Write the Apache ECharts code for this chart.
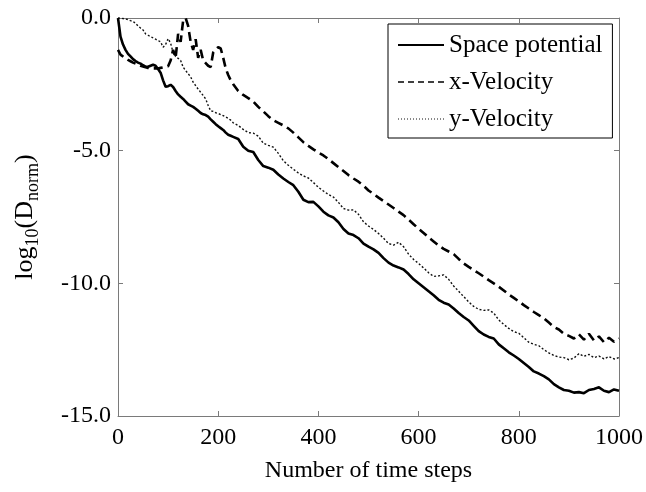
<!DOCTYPE html>
<html>
<head>
<meta charset="utf-8">
<script src="https://cdn.jsdelivr.net/npm/echarts@6/dist/echarts.min.js"></script>
<style>html,body{margin:0;padding:0;background:#fff}#c{width:646px;height:492px}</style>
</head>
<body>
<div id="c"></div>
<script>
// Time-step sampling grid
const timeSteps = [
  0,5,10,15,20,25,30,35,40,45,50,55,60,65,70,75,80,85,90,95,
  100,105,110,115,120,125,130,135,140,145,150,155,160,165,170,175,180,185,190,195,
  200,205,210,215,220,225,230,
  240,250,260,270,280,290,300,310,320,330,340,350,360,370,380,390,400,
  410,420,430,440,450,460,470,480,490,500,510,520,530,540,550,560,570,580,590,600,
  610,620,630,640,650,660,670,680,690,700,710,720,730,740,750,760,770,780,790,800,
  810,820,830,840,850,860,870,880,890,900,910,920,930,940,950,960,970,980,990,1000
];
// log10(D_norm) for each series
const spacePotential = [
  0.0,-0.7,-1.0,-1.2,-1.35,-1.45,-1.55,-1.62,-1.68,-1.72,-1.78,-1.83,-1.84,-1.8,-1.76,-1.8,-1.92,-2.06,-2.35,-2.59,
  -2.57,-2.52,-2.6,-2.75,-2.88,-2.97,-3.05,-3.15,-3.25,-3.3,-3.35,-3.42,-3.5,-3.58,-3.63,-3.66,-3.72,-3.82,-3.91,-4.0,
  -4.08,-4.15,-4.22,-4.32,-4.4,-4.44,-4.48,
  -4.56,-4.85,-5.0,-5.05,-5.35,-5.58,-5.64,-5.72,-5.9,-6.05,-6.18,-6.3,-6.55,-6.85,-6.94,-6.93,-7.1,
  -7.3,-7.44,-7.52,-7.7,-7.95,-8.12,-8.18,-8.3,-8.5,-8.62,-8.72,-8.85,-9.05,-9.22,-9.33,-9.4,-9.48,-9.65,-9.85,-10.0,
  -10.15,-10.3,-10.45,-10.62,-10.73,-10.8,-10.95,-11.12,-11.27,-11.4,-11.6,-11.8,-11.93,-12.02,-12.08,-12.3,-12.45,-12.6,-12.72,-12.85,
  -13.0,-13.15,-13.32,-13.4,-13.5,-13.62,-13.8,-13.92,-14.02,-14.05,-14.12,-14.1,-14.14,-14.02,-13.98,-13.92,-14.05,-14.1,-14.0,-14.05
];
const xVelocity = [
  -1.2,-1.38,-1.45,-1.52,-1.58,-1.63,-1.68,-1.72,-1.76,-1.8,-1.83,-1.86,-1.88,-1.9,-1.9,-1.9,-1.9,-1.88,-1.86,-1.84,
  -1.82,-1.6,-1.2,-1.5,-0.6,-0.9,-0.1,0.0,-0.3,-0.9,-1.2,-0.8,-1.5,-1.2,-1.6,-1.7,-1.8,-1.85,-1.3,-1.2,
  -1.1,-1.15,-1.5,-1.9,-2.15,-2.35,-2.5,
  -2.75,-2.9,-3.02,-3.15,-3.35,-3.52,-3.7,-3.85,-3.95,-4.05,-4.16,-4.32,-4.5,-4.68,-4.82,-4.95,-5.07,
  -5.18,-5.32,-5.47,-5.62,-5.77,-5.92,-6.05,-6.17,-6.32,-6.5,-6.63,-6.77,-6.9,-7.03,-7.16,-7.3,-7.43,-7.6,-7.77,-7.94,
  -8.1,-8.27,-8.42,-8.57,-8.7,-8.8,-8.9,-9.08,-9.25,-9.38,-9.5,-9.62,-9.75,-9.88,-10.0,-10.13,-10.27,-10.42,-10.55,-10.68,
  -10.82,-10.95,-11.08,-11.2,-11.32,-11.48,-11.64,-11.74,-11.9,-11.98,-12.08,-11.92,-12.12,-11.9,-12.15,-12.0,-12.22,-12.05,-12.2,-12.08
];
const yVelocity = [
  0.0,0.0,-0.02,-0.04,-0.06,-0.1,-0.13,-0.2,-0.3,-0.38,-0.45,-0.6,-0.65,-0.7,-0.75,-0.8,-0.85,-0.9,-1.1,-1.0,
  -0.78,-0.95,-1.3,-1.45,-1.52,-1.6,-1.85,-1.98,-2.1,-2.22,-2.42,-2.55,-2.68,-2.8,-2.92,-3.05,-3.3,-3.5,-3.52,-3.57,
  -3.6,-3.64,-3.68,-3.73,-3.78,-3.85,-3.95,
  -4.05,-4.2,-4.32,-4.34,-4.45,-4.72,-4.8,-4.87,-5.1,-5.38,-5.55,-5.7,-5.84,-5.95,-6.03,-6.2,-6.38,
  -6.52,-6.65,-6.75,-6.95,-7.18,-7.24,-7.23,-7.4,-7.68,-7.84,-7.97,-8.12,-8.3,-8.5,-8.56,-8.45,-8.62,-8.9,-9.1,-9.25,
  -9.42,-9.6,-9.74,-9.72,-9.68,-9.85,-10.1,-10.3,-10.5,-10.7,-10.87,-10.98,-11.02,-11.0,-11.12,-11.38,-11.55,-11.7,-11.82,-11.88,
  -12.05,-12.22,-12.3,-12.35,-12.5,-12.62,-12.72,-12.78,-12.8,-12.88,-12.82,-12.65,-12.75,-12.68,-12.8,-12.74,-12.85,-12.76,-12.85,-12.8
];
const seriesNames = ['Space potential', 'x-Velocity', 'y-Velocity'];
const xTicks = [0, 200, 400, 600, 800, 1000];
const yTicks = [0, -5, -10, -15];

const pair = ys => timeSteps.map((x, i) => [x, ys[i]]);
const FONT = 'Liberation Serif';
const AXC = '#7a7a7a';

const chart = echarts.init(document.getElementById('c'), null, {renderer: 'canvas'});
const baseX = {
  type: 'value', min: xTicks[0], max: xTicks[xTicks.length - 1], interval: 200,
  axisLine: {show: true, onZero: false, lineStyle: {color: AXC, width: 1}},
  axisTick: {show: true, inside: true, length: 5, lineStyle: {color: AXC}},
  splitLine: {show: false}
};
const baseY = {
  type: 'value', min: yTicks[yTicks.length - 1], max: yTicks[0], interval: 5,
  axisLine: {show: true, onZero: false, lineStyle: {color: AXC, width: 1}},
  axisTick: {show: true, inside: true, length: 5, lineStyle: {color: AXC}},
  splitLine: {show: false}
};
chart.setOption({
  animation: false,
  backgroundColor: '#fff',
  grid: {left: 114, right: 27, top: 18, bottom: 76, containLabel: false},
  xAxis: [
    Object.assign({}, baseX, {
      position: 'bottom',
      axisLabel: {color: '#000', fontFamily: FONT, fontSize: 24, margin: 10,
        formatter: v => String(v)},
      name: 'Number of time steps', nameLocation: 'middle', nameGap: 43,
      nameTextStyle: {color: '#000', fontFamily: FONT, fontSize: 24}
    }),
    Object.assign({}, baseX, {position: 'top', axisLabel: {show: false}})
  ],
  yAxis: [
    Object.assign({}, baseY, {
      position: 'left',
      axisLabel: {color: '#000', fontFamily: FONT, fontSize: 24, margin: 7,
        formatter: v => v.toFixed(1)},
      name: '{a|log}{b|10}{a|(D}{b|norm}{a|)}', nameLocation: 'middle', nameGap: 76,
      nameTextStyle: {
        rich: {
          a: {fontFamily: FONT, fontSize: 26, color: '#000', lineHeight: 34, verticalAlign: 'middle'},
          b: {fontFamily: FONT, fontSize: 18, color: '#000', lineHeight: 18, padding: [16, 0, 0, 0], verticalAlign: 'middle'}
        }
      }
    }),
    Object.assign({}, baseY, {position: 'right', axisLabel: {show: false}})
  ],
  legend: {
    show: true,
    orient: 'vertical', left: 388, top: 24,
    backgroundColor: '#fff', borderColor: '#000', borderWidth: 1,
    padding: [7, 10, 5, 9],
    itemWidth: 46, itemHeight: 14, itemGap: 9,
    itemStyle: {opacity: 0},
    textStyle: {fontFamily: FONT, fontSize: 25, color: '#000', lineHeight: 28},
    data: [
      {name: seriesNames[0], lineStyle: {width: 2}},
      {name: seriesNames[1], lineStyle: {width: 1.5, type: [6, 4]}},
      {name: seriesNames[2], lineStyle: {width: 1, type: [1, 2]}}
    ]
  },
  series: [
    {name: seriesNames[0], type: 'line', data: pair(spacePotential), symbol: 'none', z: 4,
     lineStyle: {color: '#000', width: 2.6, type: 'solid'}, itemStyle: {color: '#000'}},
    {name: seriesNames[1], type: 'line', data: pair(xVelocity), symbol: 'none', z: 3,
     lineStyle: {color: '#000', width: 2.6, type: [9, 5]}, itemStyle: {color: '#000'}},
    {name: seriesNames[2], type: 'line', data: pair(yVelocity), symbol: 'none', z: 2,
     lineStyle: {color: '#111', width: 1.4, type: [2, 2]}, itemStyle: {color: '#000'}}
  ]
});
</script>
</body>
</html>
